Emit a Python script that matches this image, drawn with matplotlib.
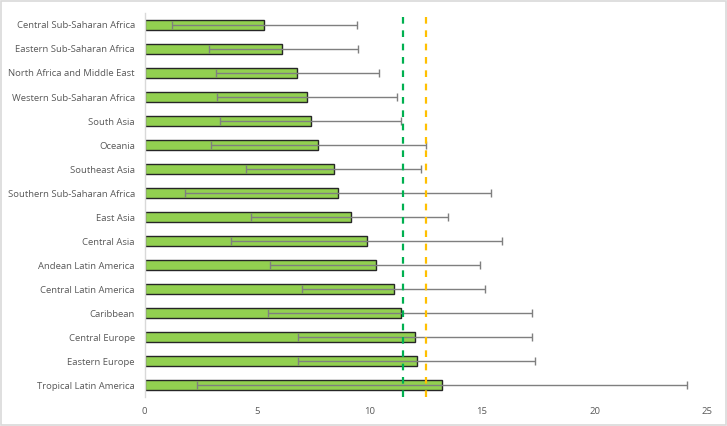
import matplotlib
matplotlib.use('Agg')
import matplotlib.pyplot as plt
import numpy as np

# data, top to bottom
regions = ['Central Sub-Saharan Africa', 'Eastern Sub-Saharan Africa', 'North Africa and Middle East',
           'Western Sub-Saharan Africa', 'South Asia', 'Oceania', 'Southeast Asia',
           'Southern Sub-Saharan Africa', 'East Asia', 'Central Asia', 'Andean Latin America',
           'Central Latin America', 'Caribbean', 'Central Europe', 'Eastern Europe',
           'Tropical Latin America']
values = [5.33, 6.13, 6.76, 7.22, 7.40, 7.73, 8.42, 8.58, 9.16, 9.91, 10.27, 11.07, 11.38, 12.0, 12.1, 13.2]
lower = [1.2, 2.87, 3.18, 3.22, 3.36, 2.96, 4.51, 1.8, 4.73, 3.84, 5.58, 6.98, 5.49, 6.8, 6.82, 2.33]
upper = [9.44, 9.49, 10.42, 11.2, 11.42, 12.51, 12.27, 15.39, 13.49, 15.87, 14.91, 15.13, 17.2, 17.2, 17.36, 24.1]
ref_green = 11.5
ref_orange = 12.5
xticks = [0, 5, 10, 15, 20, 25]

plt.rcParams['font.family'] = ['Open Sans', 'DejaVu Sans']

fig = plt.figure(figsize=(7.27, 4.26), dpi=100)
ax = fig.add_axes([0.1988, 0.068, 0.7737, 0.9015])

y = np.arange(len(regions))
vals = np.array(values)
xerr = [vals - np.array(lower), np.array(upper) - vals]

ax.barh(y, vals, height=0.42, color='#92D050', edgecolor='#262626', linewidth=1.0, zorder=2)
ax.errorbar(vals, y, xerr=xerr, fmt='none', ecolor='#7F7F7F', elinewidth=1.0,
            capsize=3, capthick=1.0, zorder=3)

ax.axvline(ref_green, color='#00B050', linestyle=(0, (3, 3)), linewidth=1.6, zorder=4)
ax.axvline(ref_orange, color='#FFC000', linestyle=(0, (3, 3)), linewidth=1.6, zorder=4)

ax.set_xlim(0, 25)
ax.set_ylim(15.5, -0.5)
ax.set_xticks(xticks)
ax.set_yticks(y)
ax.set_yticklabels(regions)
ax.tick_params(axis='both', length=0, labelsize=6.8, labelcolor='#595959')
ax.tick_params(axis='x', pad=7)
ax.tick_params(axis='y', pad=7)

for s in ['top', 'right', 'bottom']:
    ax.spines[s].set_visible(False)
ax.spines['left'].set_color('#D9D9D9')
ax.spines['left'].set_linewidth(1.0)

# light outer frame like the source chart
fig.patches.append(plt.Rectangle((0.002, 0.003), 0.996, 0.994, transform=fig.transFigure,
                                 fill=False, edgecolor='#D9D9D9', linewidth=1.2))

fig.savefig('out.png', dpi=100, facecolor='white')
